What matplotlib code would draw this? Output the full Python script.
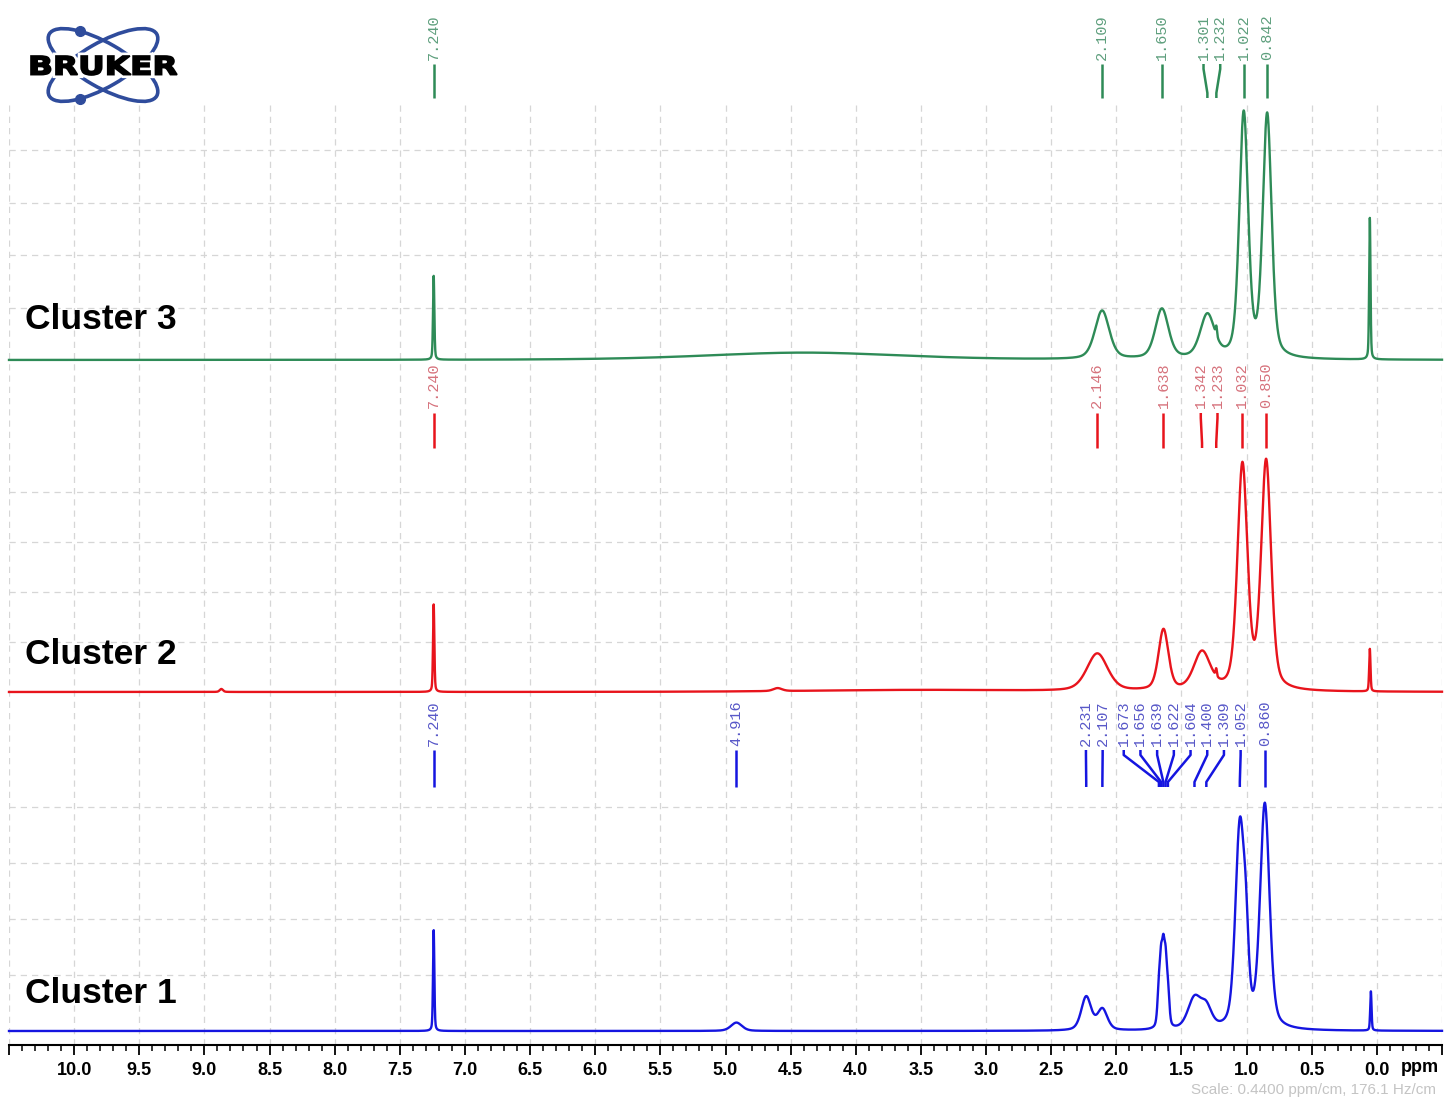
import numpy as np
import matplotlib
matplotlib.use('Agg')
import matplotlib.pyplot as plt
from matplotlib.patches import Ellipse, PathPatch
from matplotlib.textpath import TextPath
from matplotlib.font_manager import FontProperties
from matplotlib.transforms import Affine2D

plt.rcParams['font.family'] = ['Liberation Sans', 'DejaVu Sans']

# spectrum lines:
# shift (ppm), height (fraction of panel height), width (ppm, fwhm)
c3_shift = [7.240, 4.40, 2.109, 1.650, 1.301, 1.232, 1.022, 0.842, 0.054]
c3_height = [0.32, 0.028, 0.185, 0.19, 0.165, 0.035, 0.93, 0.925, 0.54]
c3_width = [0.012, 1.8, 0.13, 0.12, 0.13, 0.012, 0.08, 0.08, 0.012]
c3_peaks = [7.240, 2.109, 1.650, 1.301, 1.232, 1.022, 0.842]

c2_shift = [8.87, 7.240, 4.60, 3.50, 2.146, 1.638, 1.342, 1.233, 1.032, 0.850, 0.054]
c2_height = [0.012, 0.35, 0.012, 0.008, 0.15, 0.243, 0.152, 0.03, 0.895, 0.91, 0.17]
c2_width = [0.03, 0.012, 0.08, 2.0, 0.19, 0.09, 0.15, 0.012, 0.09, 0.09, 0.012]
c2_peaks = [7.240, 2.146, 1.638, 1.342, 1.233, 1.032, 0.850]

c1_shift = [7.240, 4.916, 2.231, 2.107, 1.673, 1.656, 1.639, 1.622, 1.604,
            1.400, 1.309, 1.052, 1.005, 0.860, 0.046]
c1_height = [0.36, 0.03, 0.12, 0.075, 0.13, 0.19, 0.22, 0.19, 0.12,
             0.11, 0.07, 0.715, 0.22, 0.80, 0.14]
c1_width = [0.012, 0.1, 0.09, 0.09, 0.026, 0.024, 0.024, 0.024, 0.026,
            0.12, 0.1, 0.08, 0.05, 0.085, 0.012]
c1_peaks = [7.240, 4.916, 2.231, 2.107, 1.673, 1.656, 1.639, 1.622, 1.604,
            1.400, 1.309, 1.052, 0.860]

tick_ppm = np.arange(-0.5, 10.51, 0.5)

W, H = 1444, 1102
X0, X1 = 9, 1442
PPM_L, PPM_R = 10.5, -0.5


def lineshape(x, shifts, heights, widths, eta=0.4):
    y = np.zeros_like(x)
    for c, h, w in zip(shifts, heights, widths):
        d = (x - c) / (w / 2)
        y += h * (eta / (1 + d ** 2) + (1 - eta) * np.exp(-np.log(2) * d ** 2))
    return y


def spread(ppms, gap):
    # push overlapping peak labels apart, keeping each group centred
    groups = [[p] for p in sorted(ppms, reverse=True)]
    merged = True
    while merged:
        merged = False
        for i in range(len(groups) - 1):
            a, b = groups[i], groups[i + 1]
            low_a = np.mean(a) - gap * (len(a) - 1) / 2
            high_b = np.mean(b) + gap * (len(b) - 1) / 2
            if low_a - high_b < gap - 1e-9:
                groups[i] = a + b
                del groups[i + 1]
                merged = True
                break
    out = []
    for g in groups:
        c, n = np.mean(g), len(g)
        out += [c + gap * ((n - 1) / 2 - k) for k in range(n)]
    return out


def fy(py):
    return 1 - py / H


fig = plt.figure(figsize=(W / 100, H / 100), dpi=100)
axw = (X1 - X0) / W

# main axis: ppm scale and vertical grid
ax = fig.add_axes([X0 / W, fy(1045), axw, (1045 - 100) / H])
ax.set_xlim(PPM_L, PPM_R)
ax.set_ylim(0, 1)
for s in ('top', 'left', 'right'):
    ax.spines[s].set_visible(False)
ax.spines['bottom'].set_linewidth(1.5)
ax.set_yticks([])
labels = ['' if v < -0.25 or v > 10.25 else '%.1f' % (round(v, 1) + 0.0) for v in tick_ppm]
ax.set_xticks(tick_ppm)
ax.set_xticklabels(labels, fontweight='bold', fontsize=13)
ax.set_xticks(np.arange(-0.5, 10.51, 0.1), minor=True)
ax.tick_params(axis='x', which='major', length=7, width=1.3, pad=5)
ax.tick_params(axis='x', which='minor', length=4, width=1.1)
ax.grid(axis='x', which='major', color='#d6d6d6', ls=(0, (5, 4)), lw=0.9)

x = np.linspace(PPM_L, PPM_R, 11001)

panels = [
    dict(name='Cluster 3', shift=c3_shift, height=c3_height, width=c3_width, peaks=c3_peaks,
         color='#2e8b57', tcolor='#5e9f7d', base=360, top=98,
         txt=60, l0=64, l1=98, name_y=329),
    dict(name='Cluster 2', shift=c2_shift, height=c2_height, width=c2_width, peaks=c2_peaks,
         color='#e8141c', tcolor='#d6727c', base=692, top=442,
         txt=408, l0=413, l1=448, name_y=664),
    dict(name='Cluster 1', shift=c1_shift, height=c1_height, width=c1_width, peaks=c1_peaks,
         color='#1515e0', tcolor='#5858c8', base=1031, top=751,
         txt=746, l0=750, l1=787, name_y=1003),
]

# overlay for peak labels, y in pixels from top
ov = fig.add_axes([X0 / W, 0, axw, 1], zorder=5)
ov.set_xlim(PPM_L, PPM_R)
ov.set_ylim(H, 0)
ov.axis('off')

gap = 16.7 * (PPM_L - PPM_R) / (X1 - X0)

for p in panels:
    pa = fig.add_axes([X0 / W, fy(p['base']), axw, (p['base'] - p['top']) / H], zorder=2)
    pa.set_xlim(PPM_L, PPM_R)
    pa.set_ylim(0, 1)
    pa.patch.set_alpha(0)
    pa.set_xticks([])
    pa.set_yticks([0.2, 0.4, 0.6, 0.8])
    pa.tick_params(left=False, labelleft=False)
    for s in pa.spines.values():
        s.set_visible(False)
    pa.grid(axis='y', color='#d6d6d6', ls=(0, (5, 4)), lw=0.9)
    y = lineshape(x, p['shift'], p['height'], p['width'])
    pa.plot(x, y, color=p['color'], lw=1.7, clip_on=False)

    pk = sorted(p['peaks'], reverse=True)
    lx = spread(pk, gap)
    for v, l in zip(pk, lx):
        ov.text(l, p['txt'], '%.3f' % v, rotation=90, ha='center', va='bottom',
                family='Liberation Mono', fontsize=11, color=p['tcolor'])
        ov.plot([l, l, v, v], [p['l0'], p['l0'] + 5, p['l1'] - 5, p['l1']],
                color=p['color'], lw=1.8, solid_capstyle='butt')

    fig.text(25 / W, fy(p['name_y']), p['name'], fontsize=25.5, fontweight='bold',
             va='baseline', ha='left')

fig.text(1420 / W, fy(1068), 'ppm', fontsize=13, fontweight='bold', ha='center', va='center')
fig.text(1436 / W, fy(1090), 'Scale: 0.4400 ppm/cm, 176.1 Hz/cm', fontsize=11,
         color='#c4c4c4', ha='right', va='center')

# logo
lg = fig.add_axes([0, fy(125), 210 / W, 125 / H], zorder=6)
lg.set_xlim(0, 210)
lg.set_ylim(125, 0)
lg.axis('off')
for ang in (30, -30):
    lg.add_patch(Ellipse((103, 65), 124, 44, angle=ang, fill=False, ec='#2f4c9c', lw=2.6))
lg.plot([80, 80], [31, 99], 'o', ms=7, color='#2f4c9c')
tp = TextPath((0, 0), 'BRUKER', size=10,
              prop=FontProperties(family='DejaVu Sans', weight='bold'))
bb = tp.get_extents()
tr = Affine2D().translate(-bb.x0, -bb.y0).scale(146 / bb.width, -19 / bb.height).translate(31, 75)
path = tr.transform_path(tp)
lg.add_patch(PathPatch(path, fc='white', ec='white', lw=5, zorder=3))
lg.add_patch(PathPatch(path, fc='black', ec='black', lw=1.2, zorder=4))

fig.savefig('out.png', dpi=100)
